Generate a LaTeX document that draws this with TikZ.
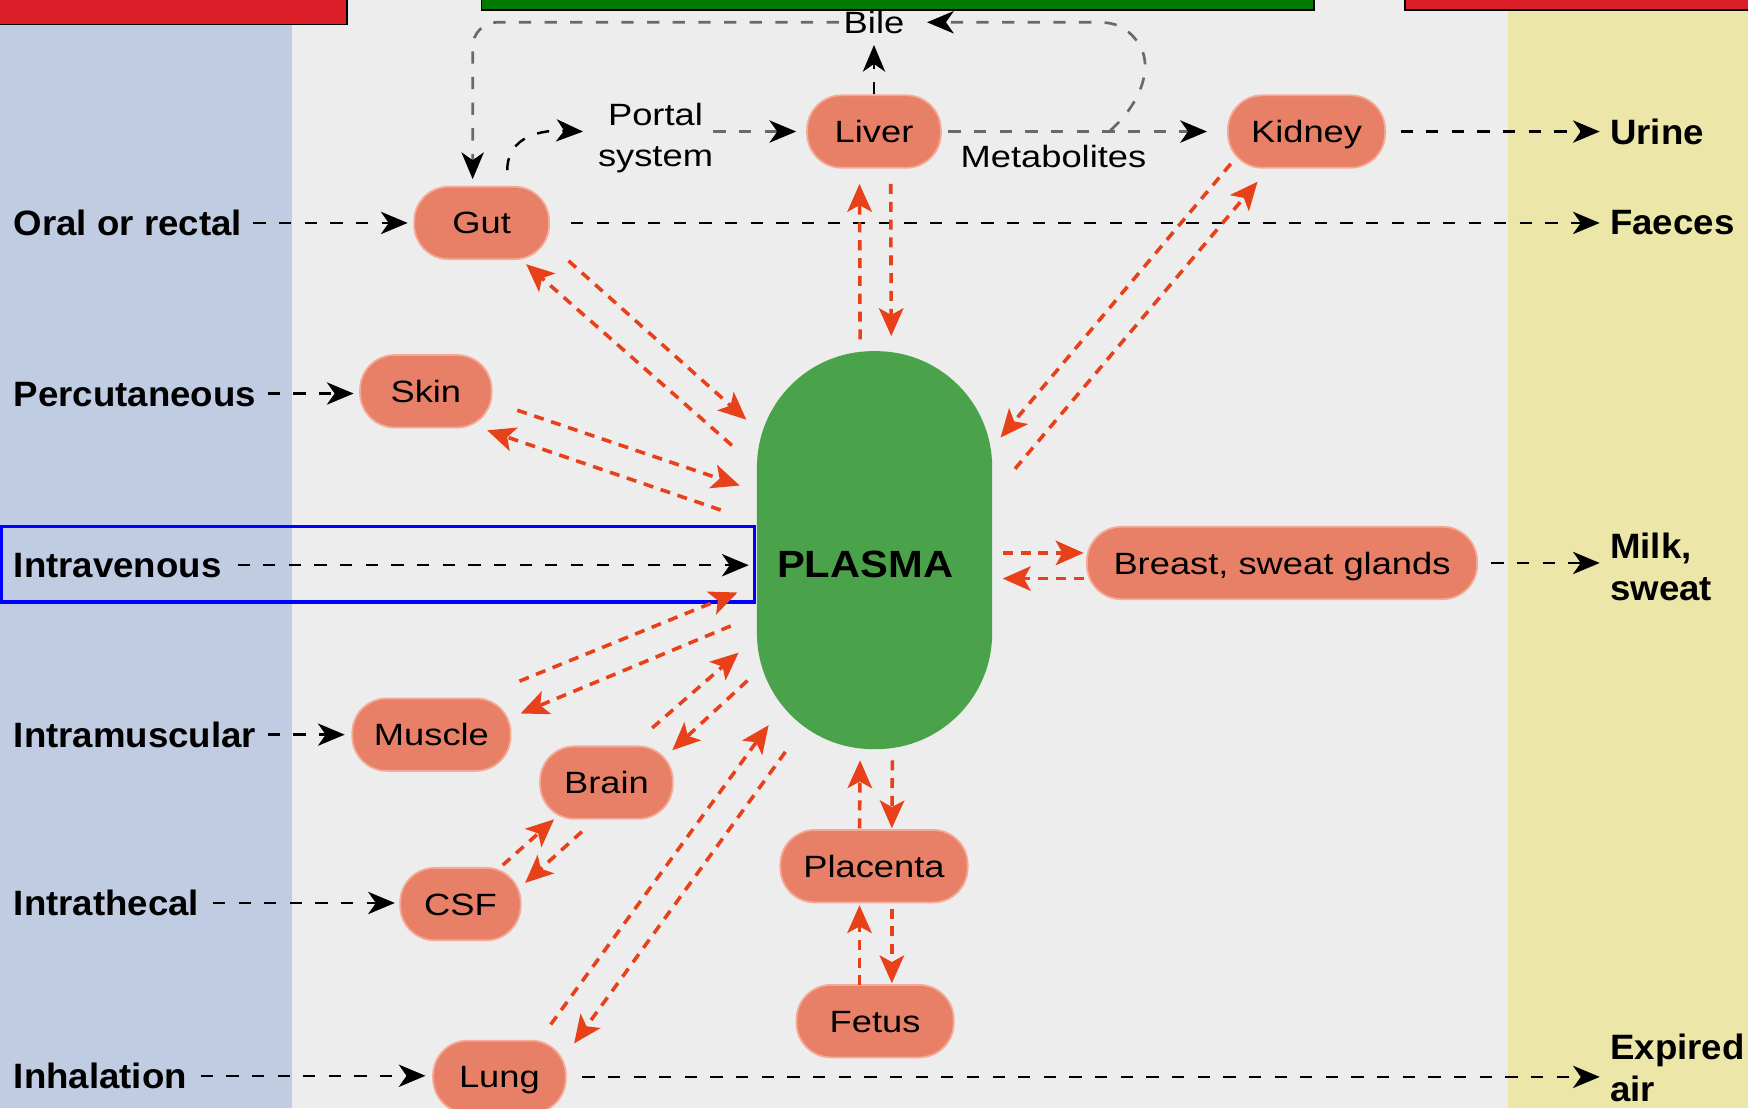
\documentclass[tikz,border=0pt]{standalone}
\usepackage{fontspec}
\setmainfont{Liberation Sans}
\newfontfamily\nodefont{Liberation Sans}[FakeStretch=1.18]
\newfontfamily\labfont{Liberation Sans}[FakeStretch=1.04]
\newfontfamily\plasfont{Liberation Sans}[FakeStretch=1.1]
\usetikzlibrary{arrows.meta,calc}
\definecolor{bandblue}{RGB}{192,204,226}
\definecolor{bggray}{RGB}{237,237,237}
\definecolor{bandyellow}{RGB}{236,231,168}
\definecolor{boxred}{RGB}{220,30,40}
\definecolor{boxgreen}{RGB}{0,122,0}
\definecolor{salmon}{RGB}{232,128,104}
\definecolor{salmonedge}{RGB}{244,170,150}
\definecolor{plasmagreen}{RGB}{74,163,74}
\definecolor{arrowred}{RGB}{232,64,24}
\definecolor{lightdash}{RGB}{105,105,105}
\begin{document}
\begin{tikzpicture}[x=0.5pt,y=-0.5pt,
  organ/.style={rectangle, rounded corners=15.5pt, fill=salmon, draw=salmonedge, line width=0.8pt,
    minimum height=32.5pt, inner sep=0pt, font=\nodefont\fontsize{13.8pt}{17pt}\selectfont,
    text height=9.9pt, text depth=0pt},
  lab/.style={inner sep=0pt, anchor=west, font=\labfont\bfseries\fontsize{15.8pt}{18.5pt}\selectfont,
    text height=11.3pt, text depth=0pt},
  labtwo/.style={inner sep=0pt, anchor=west, align=left, font=\labfont\bfseries\fontsize{15.8pt}{18.5pt}\selectfont},
  plaintext/.style={inner sep=0pt, font=\nodefont\fontsize{13.8pt}{18pt}\selectfont},
  blk/.style={draw=black, line width=1.1pt, dash pattern=on 5.5pt off 6pt,
    -{Stealth[length=12pt,width=10pt,inset=3.5pt]}},
  gry/.style={draw=lightdash, line width=1.2pt, dash pattern=on 5.5pt off 6pt,
    -{Stealth[length=12pt,width=10pt,inset=3.5pt,color=black]}},
  rdd/.style={draw=arrowred, line width=1.6pt, dash pattern=on 4.5pt off 3.5pt,
    -{Stealth[length=12.5pt,width=11pt,inset=3pt]}}
]
\useasboundingbox (0,0) rectangle (1568,994);
\clip (0,0) rectangle (1568,994);
% background bands
\fill[bandblue] (0,0) rectangle (262,994);
\fill[bggray] (262,0) rectangle (1353,994);
\fill[bandyellow] (1353,0) rectangle (1568,994);
\filldraw[fill=boxred, draw=black, line width=0.8pt] (-5,-5) rectangle (311,22);
\filldraw[fill=boxgreen, draw=black, line width=0.8pt] (432,-5) rectangle (1179,9);
\filldraw[fill=boxred, draw=black, line width=0.8pt] (1260,-5) rectangle (1575,9);
\draw[blue, line width=1.5pt] (1.5,472) rectangle (677,540);

% organ nodes
\node[rectangle, rounded corners=52pt, fill=plasmagreen, minimum width=105.5pt, minimum height=178.5pt,
  inner sep=0pt, font=\plasfont\bfseries\fontsize{17pt}{20pt}\selectfont, text height=24.7pt, text depth=0pt]
  (plasma) at (784.5,493.5) {PLASMA\hspace*{8.5pt}};
\node[organ, minimum width=60.5pt] (gut) at (432,200) {Gut};
\node[organ, minimum width=59pt] (skin) at (382,351) {Skin};
\node[organ, minimum width=60pt] (liver) at (784,118) {Liver};
\node[organ, minimum width=70.5pt] (kidney) at (1172,118) {Kidney};
\node[organ, minimum width=175pt] (breast) at (1150,505) {Breast, sweat glands};
\node[organ, minimum width=71pt] (muscle) at (387,659) {Muscle};
\node[organ, minimum width=59.5pt] (brain) at (544,702) {Brain};
\node[organ, minimum width=54pt] (csf) at (413,811) {CSF};
\node[organ, minimum width=59.5pt] (lung) at (448,966) {Lung};
\node[organ, minimum width=84pt] (placenta) at (784,777) {Placenta};
\node[organ, minimum width=70.5pt] (fetus) at (785,916) {Fetus};

% route labels
\node[lab] (oral) at (12,200) {Oral or rectal};
\node[lab] (percut) at (12,353) {Percutaneous};
\node[lab] (iv) at (12,507) {Intravenous};
\node[lab] (im) at (12,659) {Intramuscular};
\node[lab] (ith) at (12,810) {Intrathecal};
\node[lab] (inh) at (12,965) {Inhalation};
% exit labels
\node[lab] (urine) at (1444,118) {Urine};
\node[lab] (faeces) at (1444,199) {Faeces};
\node[labtwo] (milk) at (1444,508.5) {Milk,\\sweat};
\node[labtwo] (expired) at (1444,958) {Expired\\air};
% other texts
\node[plaintext, text height=9.9pt, text depth=0pt] (bile) at (784,20) {Bile};
\node[plaintext, align=center] (portal) at (588,123.8) {Portal\\system};
\node[plaintext, text height=9.9pt, text depth=0pt] (metab) at (945,140) {Metabolites};

% entry arrows
\draw[blk, shorten <=5pt, shorten >=2.5pt] (oral.east) -- (oral.east -| gut.west);
\draw[blk, shorten <=5pt, shorten >=2.5pt] (percut.east) -- (percut.east -| skin.west);
\draw[blk, shorten <=7pt, shorten >=3.5pt] (iv.east) -- (iv.east -| plasma.west);
\draw[blk, shorten <=5pt, shorten >=3pt] (im.east) -- (im.east -| muscle.west);
\draw[blk, shorten <=6pt, shorten >=2pt] (ith.east) -- (ith.east -| csf.west);
\draw[blk, shorten <=6pt, shorten >=3pt] (inh.east) -- (inh.east -| lung.west);
% exit arrows
\draw[blk, shorten <=9.5pt, shorten >=4.5pt] (gut.east) -- (gut.east -| faeces.west);
\draw[blk, shorten <=6.5pt, shorten >=4.5pt] (kidney.east) -- (kidney.east -| urine.west);
\draw[blk, shorten <=6pt, shorten >=4.5pt] (breast.east) -- (breast.east -| milk.west);
\draw[blk, shorten <=7pt, shorten >=4.5pt] (lung.east) -- (lung.east -| expired.west);

% portal / liver / bile
\coordinate (pin) at (523,118);
\draw[blk] ($(gut.north)+(23,-14)$) .. controls (455,128) and (476,116) .. (pin);
\draw[gry, shorten >=4.5pt] (portal.east |- liver.west) -- (liver.west);
\draw[gry, shorten <=3pt, shorten >=9pt] (liver.east) -- (kidney.west);
\draw[blk, shorten >=5pt] (liver.north) -- (bile.south);
\coordinate (mj) at (996,117);
\draw[gry, shorten >=10pt] (mj) .. controls (1024,92) and (1036,58) .. (1020,37)
  .. controls (1010,24) and (1000,20) .. (985,20) -- (bile.east);
\draw[gry, rounded corners=11pt, shorten <=2pt, shorten >=3pt] (bile.west) -| ($(gut.north)+(-8,0)$);

% exchange with plasma
\draw[rdd] ($(gut)+(78,34)$) -- ($(plasma)+(-115,-117)$);
\draw[rdd] ($(plasma)+(-128,-94)$) -- ($(gut)+(40,37)$);
\draw[rdd] ($(skin)+(82,17)$) -- ($(plasma)+(-121,-58)$);
\draw[rdd] ($(plasma)+(-138,-36)$) -- ($(skin)+(55,35)$);
\draw[rdd] ($(muscle)+(79,-48)$) -- ($(plasma)+(-123,38)$);
\draw[rdd] ($(plasma)+(-129,68)$) -- ($(muscle)+(80,-19)$);
\draw[rdd] ($(brain)+(41,-49)$) -- ($(plasma)+(-122,92)$);
\draw[rdd] ($(plasma)+(-114,117)$) -- ($(brain)+(59,-29)$);
\draw[rdd] ($(csf)+(38,-35)$) -- ($(brain)+(-47,33)$);
\draw[rdd] ($(brain)+(-22,44)$) -- ($(csf)+(58,-19)$);
\draw[rdd] ($(lung)+(46,-47)$) -- ($(plasma)+(-95,157)$);
\draw[rdd] ($(plasma)+(-80,181)$) -- ($(lung)+(67,-30)$);
\draw[rdd] ($(plasma)+(-13,-189)$) -- ($(liver)+(-13,47)$);
\draw[rdd] ($(liver)+(15,47)$) -- ($(plasma)+(15,-192)$);
\draw[rdd] ($(plasma)+(126,-73)$) -- ($(kidney)+(-44,45)$);
\draw[rdd] ($(kidney)+(-68,29)$) -- ($(plasma)+(113,-101)$);
\draw[rdd] ($(plasma)+(115,2.5)$) -- ($(breast)+(-178,-9)$);
\draw[rdd] ($(breast)+(-178,14)$) -- ($(plasma)+(115,25.5)$);
\draw[rdd] ($(placenta)+(-13,-34)$) -- ($(plasma)+(-13,188.5)$);
\draw[rdd] ($(plasma)+(16,188.5)$) -- ($(placenta)+(16,-34)$);
\draw[rdd] ($(fetus)+(-14,-32)$) -- ($(placenta)+(-13,35)$);
\draw[rdd] ($(placenta)+(16,38)$) -- ($(fetus)+(15,-34)$);
\end{tikzpicture}
\end{document}
